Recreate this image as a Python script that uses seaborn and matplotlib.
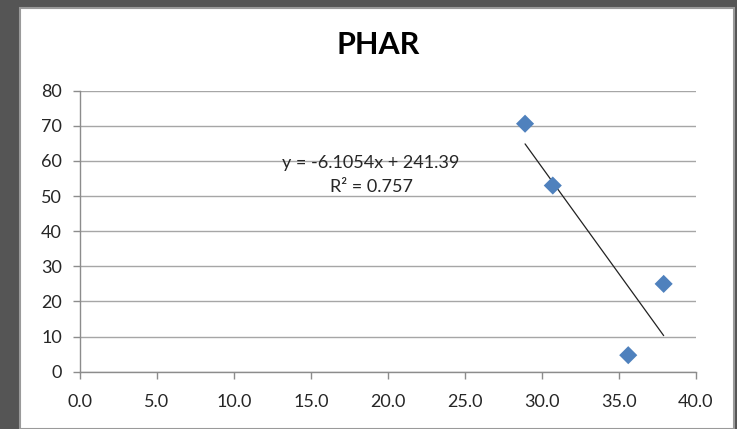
import numpy as np
import pandas as pd
import matplotlib
matplotlib.use("Agg")
import matplotlib.pyplot as plt
import seaborn as sns
from matplotlib.patches import Rectangle

# ---- data ----
x_vals = [28.9, 30.7, 37.9, 35.6]
y_vals = [70.6, 53.0, 25.0, 4.7]
title = "PHAR"
eq_line1 = "y = -6.1054x + 241.39"
eq_line2 = "R² = 0.757"
x_ticks = [0, 5, 10, 15, 20, 25, 30, 35, 40]
y_ticks = [0, 10, 20, 30, 40, 50, 60, 70, 80]

df = pd.DataFrame({"x": x_vals, "y": y_vals})

sns.set_theme(style="white")
plt.rcParams["font.family"] = ["Lato", "DejaVu Sans"]

W, H = 737, 429
fig = plt.figure(figsize=(W / 100, H / 100), dpi=100)
fig.patch.set_facecolor("#555555")

# white chart panel
panel = Rectangle((20 / W, 0), (734 - 20) / W, (H - 8) / H, transform=fig.transFigure,
                  facecolor="white", edgecolor="#9a9a9a", linewidth=1.5, zorder=-10)
fig.patches.append(panel)

ax = fig.add_axes([80 / W, (H - 371.7) / H, (696 - 80) / W, (371.7 - 90.7) / H])
ax.set_facecolor("none")
ax.set_zorder(5)

sns.regplot(data=df, x="x", y="y", scatter=False, ci=None, truncate=True,
            line_kws=dict(color="#222222", lw=0.9), ax=ax)
sns.scatterplot(data=df, x="x", y="y", marker="D", s=85, color="#4f81bd",
                edgecolor="none", ax=ax, zorder=3)

ax.set_xlim(0, 40)
ax.set_ylim(0, 80)
ax.set_xticks(x_ticks)
ax.set_xticklabels([f"{v:.1f}" for v in x_ticks])
ax.set_yticks(y_ticks)
ax.set_yticklabels([str(v) for v in y_ticks])
ax.set_xlabel("")
ax.set_ylabel("")

ax.yaxis.grid(True, color="#a6a6a6", linewidth=1.0)
ax.xaxis.grid(False)
ax.set_axisbelow(True)
for side in ["top", "right"]:
    ax.spines[side].set_visible(False)
for side in ["left", "bottom"]:
    ax.spines[side].set_visible(True)
    ax.spines[side].set_color("#8c8c8c")
    ax.spines[side].set_linewidth(1.0)

ax.tick_params(axis="both", which="major", labelsize=13, colors="#8c8c8c",
               labelcolor="#262626", direction="out", length=5, width=1.0,
               bottom=True, left=True)
ax.tick_params(axis="y", pad=8)
ax.tick_params(axis="x", pad=11)

ax.text(18.9, 59.5, eq_line1, ha="center", va="center", fontsize=13, color="#262626")
ax.text(18.9, 52.6, eq_line2, ha="center", va="center", fontsize=13, color="#262626")

fig.text(378 / W, 1 - 45 / H, title, ha="center", va="center", fontsize=22,
         fontweight="bold", color="#000000")

fig.savefig("out.png", dpi=100, facecolor=fig.get_facecolor())
